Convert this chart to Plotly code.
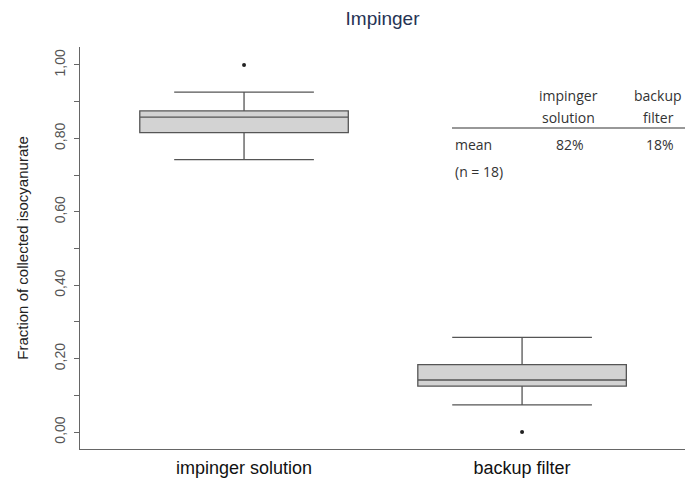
import plotly.graph_objects as go

# ---- data ----
categories = ["impinger solution", "backup filter"]
lower_whisker = [0.742, 0.074]
q1_values = [0.816, 0.125]
median_values = [0.858, 0.142]
q3_values = [0.875, 0.184]
upper_whisker = [0.926, 0.258]
outlier_values = [1.00, 0.00]

y_tick_values = [0.0, 0.2, 0.4, 0.6, 0.8, 1.0]

table_header_1 = ["impinger", "backup"]
table_header_2 = ["solution", "filter"]
table_row_label = ["mean", "(n = 18)"]
table_means = ["82%", "18%"]

W, H = 685, 482
ML, MR, MT, MB = 80, 0, 47, 33
PW, PH = W - ML - MR, H - MT - MB


def px_x(px):
    return (px - ML) / PW


def px_y(py):
    return (H - MB - py) / PH


fig = go.Figure()

for i, cat in enumerate(categories):
    fig.add_trace(go.Box(
        x=[cat],
        q1=[q1_values[i]], median=[median_values[i]], q3=[q3_values[i]],
        lowerfence=[lower_whisker[i]], upperfence=[upper_whisker[i]],
        width=0.75, whiskerwidth=0.67,
        fillcolor="#d3d3d3",
        line=dict(color="#555555", width=1.3),
        boxpoints=False,
        hoverinfo="skip",
        showlegend=False,
    ))

fig.add_trace(go.Scatter(
    x=categories, y=outlier_values, mode="markers",
    marker=dict(color="#222222", size=4),
    showlegend=False, hoverinfo="skip",
))

fig.update_layout(
    width=W, height=H,
    margin=dict(l=ML, r=MR, t=MT, b=MB),
    paper_bgcolor="white", plot_bgcolor="white",
    separators=",.",
    title=dict(text="Impinger", x=0.5, xref="paper", xanchor="center",
               y=1 - 18 / H, yref="container", yanchor="middle",
               font=dict(family="Liberation Sans, Arial", size=19, color="#263354")),
    font=dict(family="Liberation Sans, Arial"),
)

fig.update_xaxes(
    type="category",
    range=[-0.59, 1.586],
    showline=True, linecolor="#666666", linewidth=1.3,
    showgrid=False, zeroline=False,
    ticks="outside", ticklen=2, tickcolor="rgba(0,0,0,0)",
    tickfont=dict(size=18, color="#111111"),
)

fig.update_yaxes(
    range=[-0.046, 1.049],
    showline=True, linecolor="#666666", linewidth=1.3,
    showgrid=False, zeroline=False,
    tickvals=y_tick_values, tickformat=".2f",
    ticks="outside", ticklen=5, tickcolor="#666666", tickwidth=1,
    minor=dict(dtick=0.1, tick0=0, ticks="outside", ticklen=5, tickcolor="#666666", tickwidth=1),
    tickangle=-90,
    ticklabelstandoff=3,
    tickfont=dict(size=14, color="#555555"),
    title=dict(text="Fraction of collected isocyanurate",
               font=dict(size=15, color="#222222"), standoff=20),
)

tfont = dict(family="Open Sans", size=14, color="#333333")
col_x = [568, 658]
for i in range(2):
    fig.add_annotation(x=px_x(col_x[i]), y=px_y(96), xref="paper", yref="paper",
                       text=table_header_1[i], showarrow=False, font=tfont,
                       xanchor="center", yanchor="middle")
    fig.add_annotation(x=px_x(col_x[i]), y=px_y(117), xref="paper", yref="paper",
                       text=table_header_2[i], showarrow=False, font=tfont,
                       xanchor="center", yanchor="middle")
    fig.add_annotation(x=px_x(col_x[i] + 2), y=px_y(144), xref="paper", yref="paper",
                       text=table_means[i], showarrow=False, font=tfont,
                       xanchor="center", yanchor="middle")

fig.add_annotation(x=px_x(453), y=px_y(144), xref="paper", yref="paper",
                   text=table_row_label[0], showarrow=False, font=tfont,
                   xanchor="left", yanchor="middle")
fig.add_annotation(x=px_x(453), y=px_y(171), xref="paper", yref="paper",
                   text=table_row_label[1], showarrow=False, font=tfont,
                   xanchor="left", yanchor="middle")

fig.add_shape(type="line", xref="paper", yref="paper",
              x0=px_x(452), x1=px_x(685), y0=px_y(128), y1=px_y(128),
              line=dict(color="#333333", width=1.2))

fig.write_html("out.html")
